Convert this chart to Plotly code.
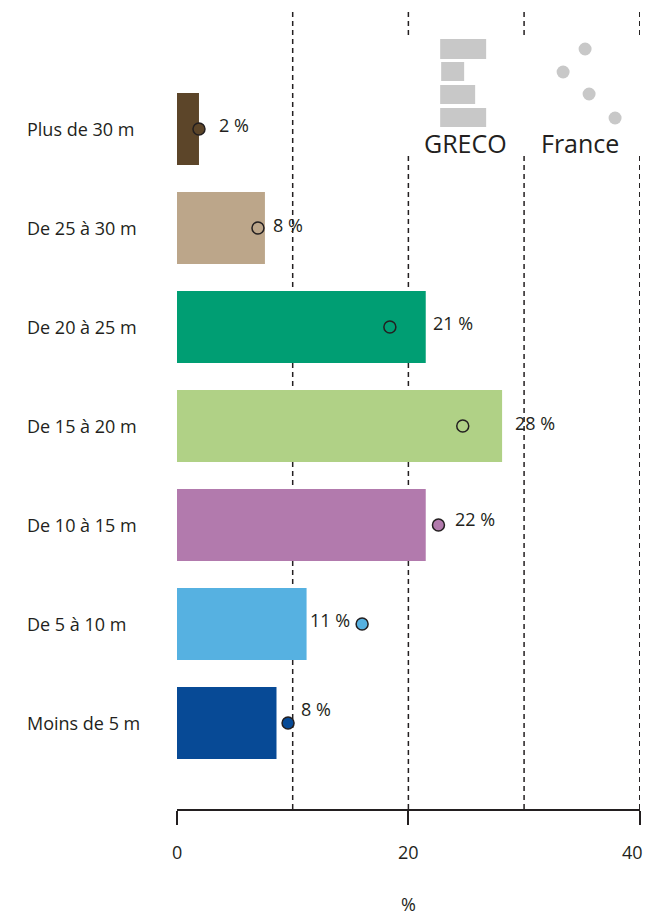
import plotly.graph_objects as go

# Data (bottom to top)
categories = ["Moins de 5 m", "De 5 à 10 m", "De 10 à 15 m", "De 15 à 20 m",
              "De 20 à 25 m", "De 25 à 30 m", "Plus de 30 m"]
greco = [8.6, 11.2, 21.5, 28.1, 21.5, 7.6, 1.9]
france = [9.6, 16.0, 22.6, 24.7, 18.4, 7.0, 1.9]
value_labels = ["8 %", "11 %", "22 %", "28 %", "21 %", "8 %", "2 %"]
colors = ["#074a96", "#56b1e1", "#b27aad", "#b0d186", "#009e73", "#bca68a", "#5c4529"]
x_ticks = [0, 20, 40]
x_tick_labels = ["0", "20", "40"]

# Label placement (x in axis units, vertical shift in px)
label_x = [10.55, 11.3, 23.85, 29.05, 21.95, 8.1, 3.45]
label_dy = [14, 4, 6, 3, 4, 3, 4]

FONT = "Open Sans"
INK = "#231f20"
LEGEND_GREY = "#c8c8c8"
FS = 18

# the page body adds an 8px offset, so the figure is sized to fill the rest
OFF = 8
ML, MR, MT, MB = 177 - OFF, 12, 10 - OFF, 106
PLOT_W = 652 - OFF - ML - MR


def px_x(p):
    # pixel column -> x axis units (decorations only)
    return (p - 176.7) / 11.575


def px_y(p):
    # pixel row -> y axis units (decorations only)
    return (723 - p) / 99


fig = go.Figure()

fig.add_trace(go.Bar(
    x=greco, y=categories, orientation="h",
    marker=dict(color=colors, line=dict(width=0)),
    width=0.727, showlegend=False, hoverinfo="x+y",
))

fig.add_trace(go.Scatter(
    x=france, y=categories, mode="markers",
    marker=dict(size=12, color=colors, line=dict(color=INK, width=1.5)),
    showlegend=False,
))

shapes = []
# dashed reference lines
for v in [10, 20, 30, 40]:
    shapes.append(dict(type="line", xref="x", yref="paper", x0=v, x1=v, y0=0, y1=1,
                       line=dict(color=INK, width=1.5, dash="5px,4px"), layer="below"))
# white panel behind the legend
shapes.append(dict(type="rect", xref="x", yref="y", x0=px_x(398), x1=40.5,
                   y0=px_y(156), y1=px_y(37), fillcolor="white",
                   line=dict(width=0), layer="below"))
# legend icon: bars
for x0, x1, y0, y1 in [(440, 486, 39, 59), (441, 464, 62, 81),
                       (440, 475, 85, 104), (440, 486, 108, 127)]:
    shapes.append(dict(type="rect", xref="x", yref="y", x0=px_x(x0), x1=px_x(x1),
                       y0=px_y(y1), y1=px_y(y0), fillcolor=LEGEND_GREY,
                       line=dict(width=0), layer="above"))
# legend icon: dots
for cx, cy in [(585, 49), (563, 72), (589, 94), (615, 118)]:
    r = 6.5
    shapes.append(dict(type="circle", xref="x", yref="y", x0=px_x(cx - r), x1=px_x(cx + r),
                       y0=px_y(cy + r), y1=px_y(cy - r), fillcolor=LEGEND_GREY,
                       line=dict(width=0), layer="above"))

annotations = []
# category labels, left aligned
for c in categories:
    annotations.append(dict(text=c, xref="paper", yref="y", x=-152 / PLOT_W, y=c,
                            xanchor="left", yanchor="middle", showarrow=False,
                            font=dict(family=FONT, size=FS, color=INK)))
# value labels
for c, t, lx, dy in zip(categories, value_labels, label_x, label_dy):
    annotations.append(dict(text=t, xref="x", yref="y", x=lx, y=c, yshift=dy,
                            xanchor="left", yanchor="middle", showarrow=False,
                            font=dict(family=FONT, size=FS, color=INK)))
# x tick labels (last one kept inside the window edge)
for i, (v, t) in enumerate(zip(x_ticks, x_tick_labels)):
    last = i == len(x_ticks) - 1
    annotations.append(dict(text=t, xref="x", yref="paper", x=v, y=0, yshift=-43,
                            xanchor="right" if last else "center",
                            xshift=5 if last else 0,
                            yanchor="middle", showarrow=False,
                            font=dict(family=FONT, size=FS, color=INK)))
# legend texts
annotations.append(dict(text="GRECO", xref="x", yref="y", x=px_x(465.5), y=px_y(143),
                        xanchor="center", yanchor="middle", showarrow=False,
                        font=dict(family=FONT, size=25, color=INK)))
annotations.append(dict(text="France", xref="x", yref="y", x=px_x(580), y=px_y(143),
                        xanchor="center", yanchor="middle", showarrow=False,
                        font=dict(family=FONT, size=25, color=INK)))
# axis title
annotations.append(dict(text="%", xref="paper", yref="paper", x=0.5, y=-95 / 799,
                        xanchor="center", yanchor="middle", showarrow=False,
                        font=dict(family=FONT, size=FS, color=INK)))

fig.update_layout(
    width=652 - OFF, height=915 - OFF,
    margin=dict(l=ML, r=MR, t=MT, b=MB),
    paper_bgcolor="white", plot_bgcolor="white",
    font=dict(family=FONT, size=FS, color=INK),
    shapes=shapes, annotations=annotations,
    bargap=0.27,
    xaxis=dict(range=[0, 40.02], tickvals=x_ticks, showticklabels=False,
               ticks="outside", ticklen=14, tickwidth=1.5, tickcolor=INK,
               showline=True, linecolor=INK, linewidth=1.5,
               showgrid=False, zeroline=False, fixedrange=True),
    yaxis=dict(type="category", categoryorder="array", categoryarray=categories,
               range=[px_y(809), px_y(10)], visible=False, fixedrange=True),
)

fig.write_html("out.html")
